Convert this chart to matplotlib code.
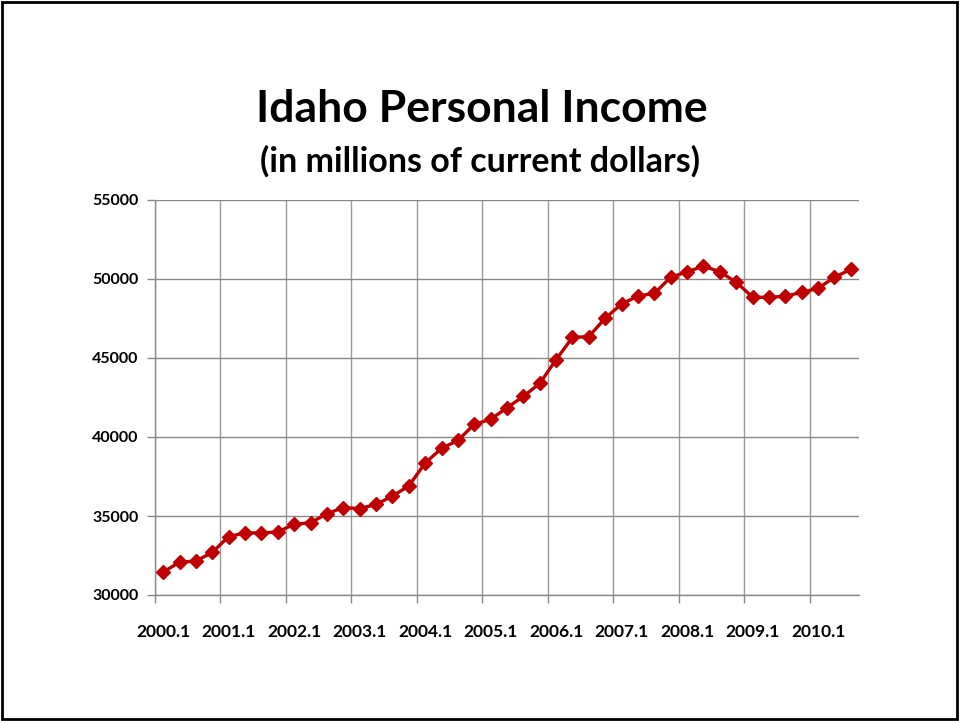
import matplotlib
matplotlib.use("Agg")
import matplotlib.pyplot as plt
from matplotlib.patches import Rectangle
import numpy as np

quarters = [f"{y}.{q}" for y in range(2000, 2011) for q in range(1, 5)][:43]
income = [31450, 32080, 32150, 32700, 33700, 33930, 33930, 33990, 34480, 34570,
          35150, 35530, 35470, 35730, 36260, 36900, 38350, 39280, 39780, 40800,
          41120, 41850, 42570, 43390, 44900, 46300, 46360, 47520, 48420, 48920,
          49090, 50110, 50460, 50810, 50460, 49790, 48860, 48830, 48920, 49150,
          49410, 50110, 50610]
yticks = [30000, 35000, 40000, 45000, 50000, 55000]

plt.rcParams['font.family'] = ['Lato', 'DejaVu Sans']

fig = plt.figure(figsize=(9.6, 7.21), dpi=100)
ax = fig.add_axes([155/960, 1-595/721, (859-155)/960, (595-200)/721])

x = np.arange(len(income))
ax.plot(x, income, color='#C00000', lw=2.4, marker='D', markersize=7,
        markeredgecolor='#C00000', markerfacecolor='#C00000', zorder=3)

ax.set_xlim(-0.5, len(income) - 0.5)
ax.set_ylim(30000, 55000)
ax.set_yticks(yticks)
ax.set_yticklabels([str(v) for v in yticks], fontsize=11.5, fontweight='bold')

label_idx = list(range(0, len(income), 4))
ax.set_xticks(label_idx)
ax.set_xticklabels([quarters[i] for i in label_idx], fontsize=12.5, fontweight='bold')
ax.tick_params(axis='x', which='major', length=0, pad=21)
ax.set_xticks(np.arange(-0.5, len(income) - 0.5, 4), minor=True)
ax.tick_params(axis='x', which='minor', length=6, color='#888888', width=1)
ax.tick_params(axis='y', length=6, color='#888888', width=1, pad=6)

ax.grid(axis='y', color='#888888', lw=1)
ax.grid(axis='x', which='minor', color='#999999', lw=1)
ax.set_axisbelow(True)
for s in ['top', 'right']:
    ax.spines[s].set_visible(False)
for s in ['left', 'bottom']:
    ax.spines[s].set_color('#888888')
    ax.spines[s].set_linewidth(1)

fig.text(0.502, 1-109/721, "Idaho Personal Income", ha='center', va='center',
         fontsize=32, fontweight='bold')
fig.text(0.500, 1-161/721, "(in millions of current dollars)", ha='center', va='center',
         fontsize=24.5, fontweight='bold')

fig.patches.append(Rectangle((0.002, 0.003), 0.995, 0.994, transform=fig.transFigure,
                             fill=False, edgecolor='black', lw=2))

fig.savefig("out.png", dpi=100)
